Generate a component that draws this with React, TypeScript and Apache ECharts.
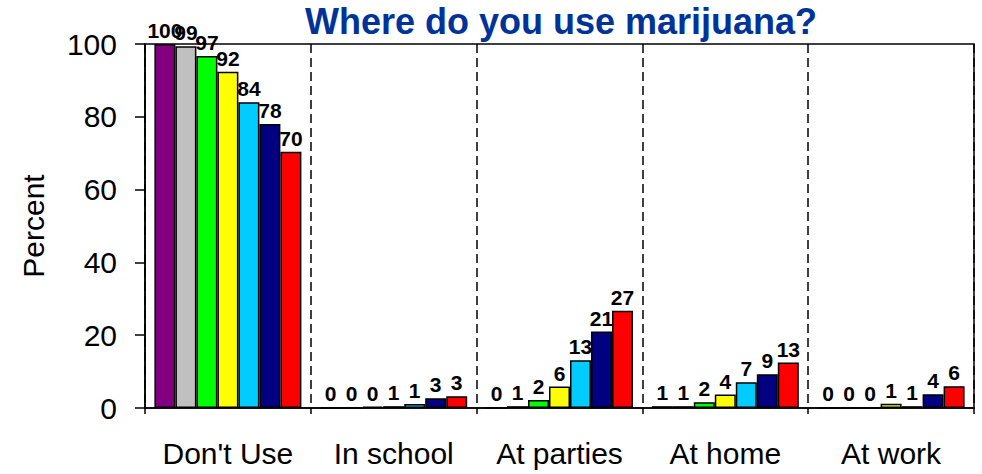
import React, { useEffect, useRef } from "react";
import * as echarts from "echarts";

const titleText = "Where do you use marijuana?";
const yAxisName = "Percent";
const categories = ["Don't Use", "In school", "At parties", "At home", "At work"];

// values per category, one entry per series (7 series)
const dontUse = [100, 99.4, 96.7, 92.4, 84, 78, 70.4];
const inSchool = [0, 0, 0.4, 0.5, 1.1, 2.7, 3.2];
const atParties = [0, 0.5, 2.2, 5.9, 13.1, 21, 26.7];
const atHome = [0.5, 0.5, 1.6, 3.7, 7.1, 9.3, 12.5];
const atWork = [0, 0, 0, 1.2, 0.5, 3.8, 6.0];

const seriesNames = ["Series 1", "Series 2", "Series 3", "Series 4", "Series 5", "Series 6", "Series 7"];
const seriesColors = ["#800080", "#C0C0C0", "#00FF00", "#FFFF00", "#00CCFF", "#000080", "#FF0000"];

const yMin = 0;
const yMax = 100;
const yInterval = 20;

const FONT = "Liberation Sans, Arial, sans-serif";

export default function App() {
  const ref = useRef<HTMLDivElement>(null);

  useEffect(() => {
    if (!ref.current) return;
    const chart = echarts.init(ref.current, null, { renderer: "svg" });
    const groups = [dontUse, inSchool, atParties, atHome, atWork];
    const series = seriesNames.map((name, i) => ({
      name,
      type: "bar",
      barWidth: 21,
      barGap: "0%",
      data: groups.map((g) => g[i]),
      itemStyle: { color: seriesColors[i], borderColor: "#000", borderWidth: 1.5 },
      label: {
        show: true,
        position: "top",
        distance: 3,
        fontFamily: FONT,
        fontSize: 21,
        fontWeight: "bold",
        color: "#000",
        formatter: (p: any) => String(Math.round(p.value)),
      },
    }));

    chart.setOption({
      animation: false,
      backgroundColor: "#fff",
      textStyle: { fontFamily: FONT },
      title: {
        text: titleText,
        left: 561,
        top: 3,
        padding: 0,
        textAlign: "center",
        textStyle: { fontFamily: FONT, fontWeight: "bold", fontSize: 36, color: "#003399" },
      },
      grid: {
        left: 145,
        right: 8,
        top: 44,
        bottom: 66,
        show: true,
        borderColor: "#000",
        borderWidth: 1.5,
        backgroundColor: "transparent",
      },
      xAxis: {
        type: "category",
        data: categories,
        boundaryGap: true,
        axisLine: { show: true, lineStyle: { color: "#000", width: 1.5 } },
        axisTick: { show: true, interval: 0, length: 6, inside: false, lineStyle: { color: "#000", width: 1.5 } },
        axisLabel: { interval: 0, fontFamily: FONT, fontSize: 30, color: "#000", margin: 30 },
        splitLine: { show: true, interval: 0, lineStyle: { color: "#000", width: 1.5, type: [9, 5] } },
      },
      yAxis: {
        type: "value",
        min: yMin,
        max: yMax,
        interval: yInterval,
        name: yAxisName,
        nameLocation: "middle",
        nameGap: 97,
        nameTextStyle: { fontFamily: FONT, fontSize: 30, color: "#000" },
        axisLine: { show: true, lineStyle: { color: "#000", width: 1.5 } },
        axisTick: { show: true, length: 10, inside: false, lineStyle: { color: "#000", width: 1.5 } },
        axisLabel: { fontFamily: FONT, fontSize: 30, color: "#000", margin: 28 },
        splitLine: { show: false },
      },
      series,
    });
    return () => chart.dispose();
  }, []);

  return (
    <div
      ref={ref}
      style={{ position: "fixed", left: 0, top: 0, width: 982, height: 474, background: "#fff" }}
    />
  );
}
